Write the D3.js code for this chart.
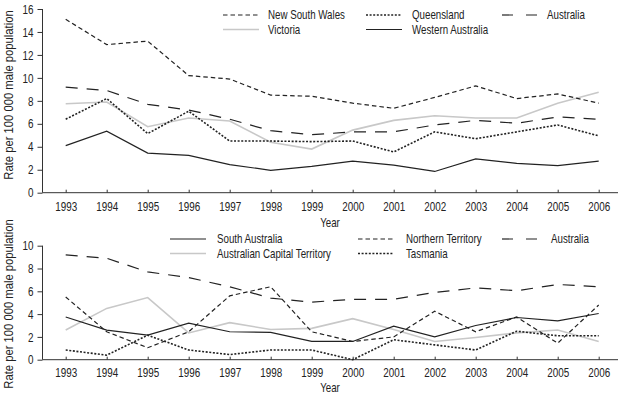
<!DOCTYPE html>
<html><head><meta charset="utf-8">
<script src="https://cdn.jsdelivr.net/npm/d3@7"></script>
<style>
body{margin:0;background:#fff;}
text{font-family:"Liberation Sans Narrow","Liberation Sans",Arial,sans-serif;fill:#222;}
</style></head>
<body><svg id="c" width="620" height="396"></svg>
<script>
const years = [1993,1994,1995,1996,1997,1998,1999,2000,2001,2002,2003,2004,2005,2006];
const nsw = [15.1,12.9,13.2,10.2,9.9,8.5,8.4,7.8,7.35,8.3,9.3,8.2,8.6,7.8];
const vic = [7.75,7.9,5.75,6.5,6.25,4.4,3.8,5.45,6.3,6.7,6.5,6.5,7.8,8.75];
const qld = [6.4,8.2,5.15,7.1,4.5,4.5,4.45,4.5,3.55,5.3,4.7,5.3,5.9,4.95];
const aus = [9.2,8.9,7.7,7.2,6.4,5.4,5.05,5.3,5.3,5.9,6.3,6.05,6.6,6.4];
const wa  = [4.1,5.35,3.45,3.25,2.45,1.95,2.3,2.75,2.4,1.85,2.95,2.55,2.35,2.75];
const sa  = [3.75,2.6,2.15,3.2,2.45,2.4,1.6,1.6,2.95,2.0,3.0,3.7,3.4,4.05];
const act = [2.6,4.5,5.45,2.35,3.25,2.65,2.75,3.6,2.65,1.6,1.95,2.35,2.6,1.6];
const nt  = [5.5,2.45,1.05,2.45,5.6,6.4,2.45,1.6,2.0,4.25,2.45,3.75,1.45,4.8];
const tas = [0.85,0.4,2.15,0.85,0.45,0.85,0.85,0.0,1.75,1.3,0.85,2.5,2.1,2.1];
const topTicks = [0,2,4,6,8,10,12,14,16];
const botTicks = [0,2,4,6,8,10];

const styles = {
  nsw:{stroke:"#222",w:1.2,dash:"4.5,3"},
  vic:{stroke:"#c8c8c8",w:1.6,dash:null},
  qld:{stroke:"#222",w:1.6,dash:"2,1.6"},
  aus:{stroke:"#222",w:1.2,dash:"12,9"},
  wa:{stroke:"#222",w:1.2,dash:null},
  sa:{stroke:"#222",w:1.2,dash:null},
  act:{stroke:"#c8c8c8",w:1.6,dash:null},
  nt:{stroke:"#222",w:1.2,dash:"4.5,3"},
  tas:{stroke:"#222",w:1.6,dash:"2,1.6"}
};

const FS = "12.5px", SX = 0.78;
function narrow(sel, s){
  s = s || SX;
  sel.each(function(){
    const t = d3.select(this);
    const xx = +t.attr("x") || 0;
    const tr = t.attr("transform") || "";
    t.attr("transform", `${tr} translate(${xx},0) scale(${s},1) translate(${-xx},0)`);
  });
}

const svg = d3.select("#c");
const x = d3.scalePoint().domain(years).range([65.7,598.7]);
const axisX0 = 42.5, axisX1 = 618;

function panel(yScale, ticks, series, legend, tickLabelY, yearY, titleY){
  const g = svg.append("g");
  const ya = g.append("g").attr("transform",`translate(${axisX0},0)`)
    .call(d3.axisLeft(yScale).tickValues(ticks).tickSize(5).tickPadding(4).tickFormat(d3.format("d")));
  ya.select(".domain").attr("stroke","#333").attr("d",`M0,${yScale.range()[0]}V${yScale.range()[1]}`);
  ya.selectAll(".tick line").attr("stroke","#333");
  ya.selectAll("text").style("font-size","13px").attr("fill","#222").call(narrow, 0.76);
  const y0 = yScale(0);
  const xa = g.append("g").attr("transform",`translate(0,${y0})`)
    .call(d3.axisBottom(x).tickSize(-3).tickPadding(0).tickFormat(d=>String(d)));
  xa.select(".domain").attr("stroke","#333").attr("d",`M${axisX0},0H${axisX1}`);
  xa.selectAll(".tick line").attr("stroke","#333");
  xa.selectAll("text").style("font-size","13px").attr("fill","#222")
    .attr("y",tickLabelY-y0).attr("dy","0.35em").call(narrow, 0.76);
  g.append("text").attr("x",330).attr("y",yearY).attr("dy","0.35em")
    .attr("text-anchor","middle").style("font-size",FS).text("Year").call(narrow);
  g.append("text").attr("transform",`translate(8.5,${titleY}) rotate(-90)`)
    .attr("dy","0.35em").attr("text-anchor","middle").style("font-size",FS)
    .text("Rate per 100 000 male population").call(narrow, 0.9);
  const line = d3.line().x((d,i)=>x(years[i])).y(d=>yScale(d));
  series.forEach(s=>{
    const st = styles[s.key];
    g.append("path").datum(s.values).attr("d",line).attr("fill","none")
      .attr("stroke",st.stroke).attr("stroke-width",st.w)
      .attr("stroke-dasharray",st.dash);
  });
  legend.forEach(l=>{
    const st = styles[l.key];
    g.append("line").attr("x1",l.x).attr("x2",l.x+36).attr("y1",l.y).attr("y2",l.y)
      .attr("stroke",st.stroke).attr("stroke-width",st.w).attr("stroke-dasharray",l.dash||st.dash);
    g.append("text").attr("x",l.x+l.tx).attr("y",l.y).attr("dy","0.35em")
      .style("font-size",FS).text(l.label).call(narrow);
  });
}

const yTop = d3.scaleLinear().domain([0,16]).range([192.7,9]);
const yBot = d3.scaleLinear().domain([0,10]).range([359.7,245.7]);

panel(yTop, topTicks,
  [{key:"vic",values:vic},{key:"nsw",values:nsw},{key:"qld",values:qld},{key:"aus",values:aus},{key:"wa",values:wa}],
  [{key:"nsw",label:"New South Wales",x:223,y:15,tx:45},
   {key:"vic",label:"Victoria",x:223,y:29.5,tx:45},
   {key:"qld",label:"Queensland",x:366,y:15,tx:46},
   {key:"wa",label:"Western Australia",x:366,y:29.5,tx:46},
   {key:"aus",label:"Australia",x:502,y:15,tx:45,dash:"11,13"}],
  206, 222.5, 95);

panel(yBot, botTicks,
  [{key:"act",values:act},{key:"sa",values:sa},{key:"nt",values:nt},{key:"tas",values:tas},{key:"aus",values:aus}],
  [{key:"sa",label:"South Australia",x:170,y:239,tx:47},
   {key:"act",label:"Australian Capital Territory",x:170,y:253.5,tx:47},
   {key:"nt",label:"Northern Territory",x:358,y:239,tx:48},
   {key:"tas",label:"Tasmania",x:358,y:253.5,tx:48},
   {key:"aus",label:"Australia",x:502,y:239,tx:49,dash:"11,13"}],
  372, 388, 304);
</script></body></html>
